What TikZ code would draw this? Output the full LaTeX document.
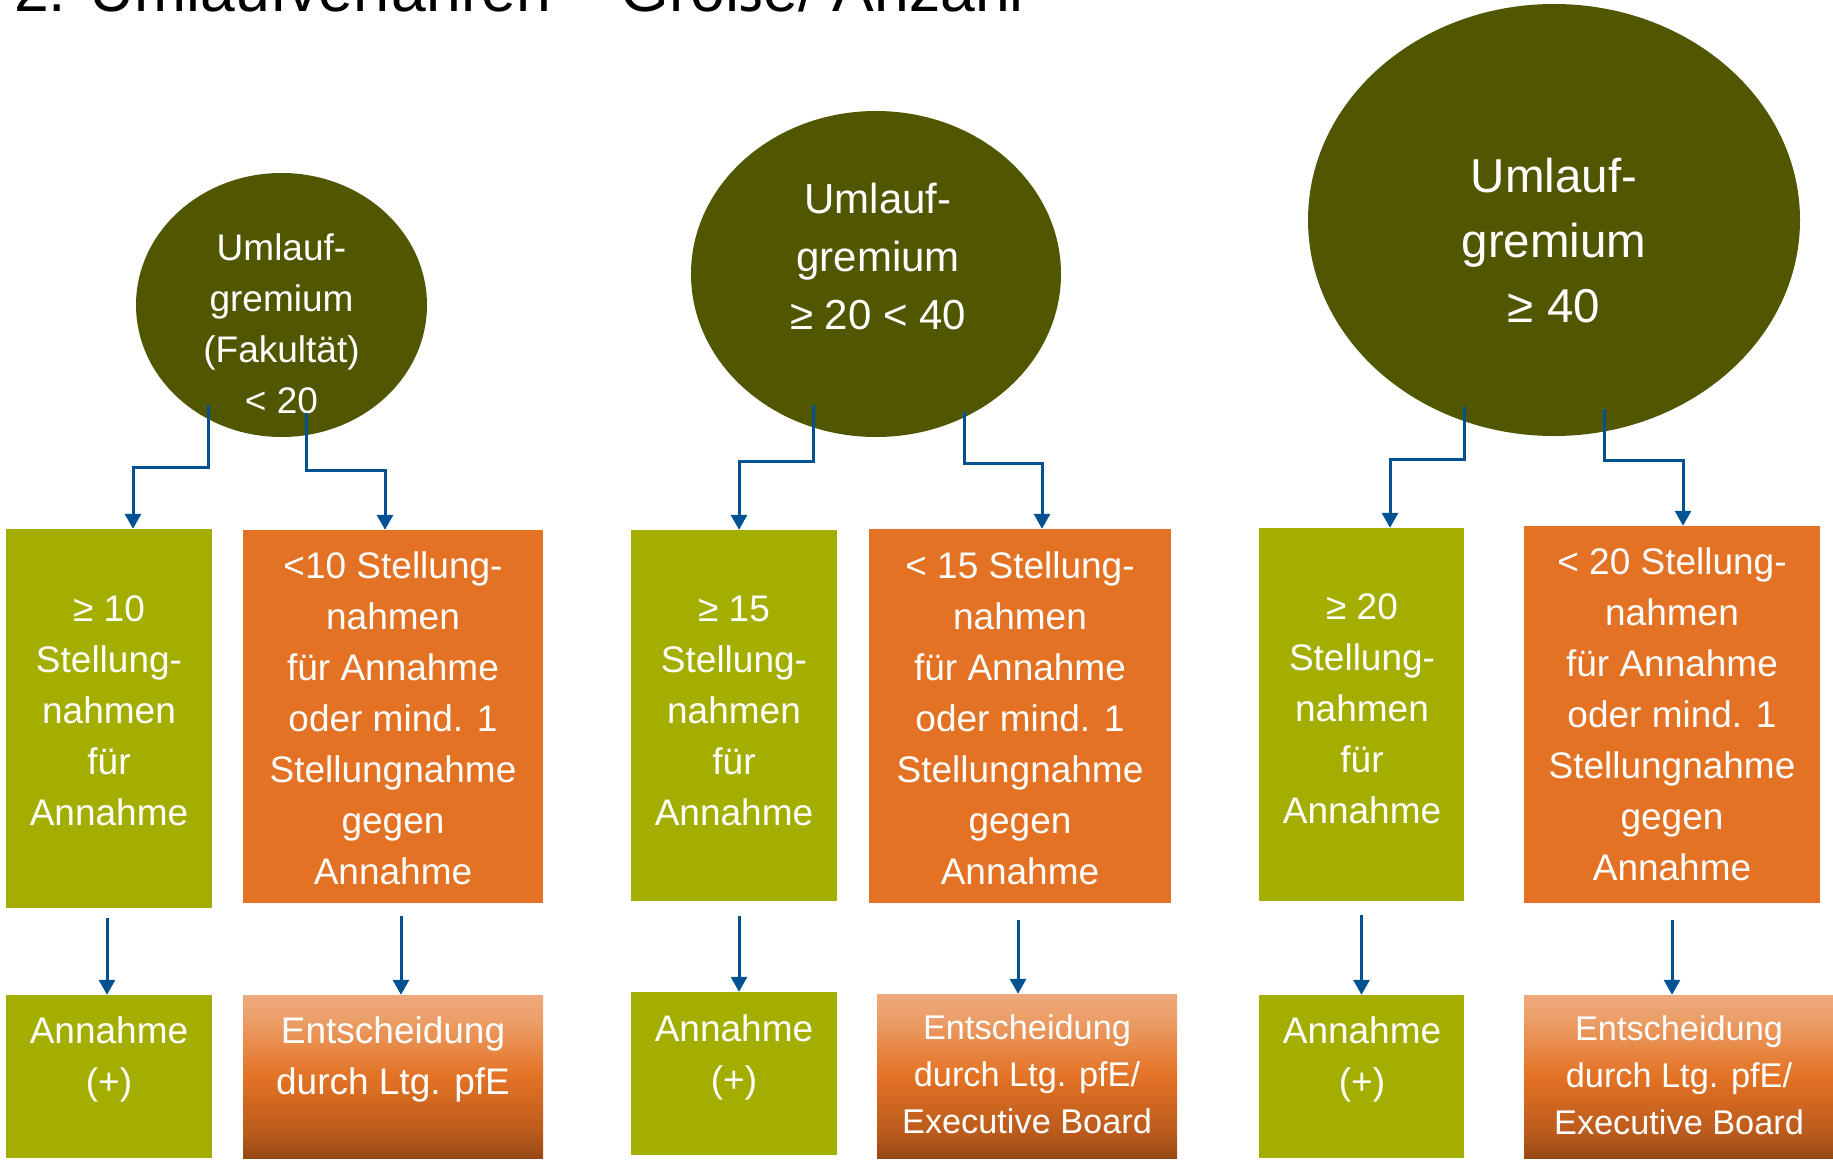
\documentclass[tikz,border=0pt]{standalone}
\usepackage{fontspec}
\setmainfont{Liberation Sans}
\usetikzlibrary{shapes.geometric,arrows.meta,calc}
\definecolor{olivedk}{RGB}{81,87,0}
\definecolor{grn}{RGB}{164,174,0}
\definecolor{org}{RGB}{227,114,36}
\definecolor{gtop}{RGB}{238,170,124}
\definecolor{gtopb}{RGB}{235,158,104}
\definecolor{gbotb}{RGB}{185,90,28}
\definecolor{gbot}{RGB}{150,72,20}
\definecolor{arrblue}{RGB}{0,82,147}
% path spans 25bp (bottom) .. 75bp (top) of the shading
\pgfdeclareverticalshading{orggrad}{100bp}{color(0bp)=(gbot); color(25bp)=(gbot); color(32.5bp)=(gbotb); color(50bp)=(org); color(67.5bp)=(gtopb); color(75bp)=(gtop); color(100bp)=(gtop)}
\tikzset{
  ell/.style={ellipse, fill=olivedk, inner sep=0pt, draw=none},
  gbox/.style={rectangle, fill=grn, inner sep=0pt},
  obox/.style={rectangle, fill=org, inner sep=0pt},
  gradbox/.style={rectangle, inner sep=0pt, shading=orggrad},
  txt/.style={text=white, align=center, inner sep=0pt, anchor=base},
  fA/.style={font=\fontsize{37pt}{51pt}\selectfont},
  fB/.style={font=\fontsize{42pt}{58pt}\selectfont},
  fC/.style={font=\fontsize{47.5pt}{65pt}\selectfont},
  fD/.style={font=\fontsize{34.3pt}{47pt}\selectfont},
  conn/.style={draw=arrblue, line width=3pt, -{Triangle[width=16pt,length=15pt]}},
}
\begin{document}
\begin{tikzpicture}[x=1pt,y=1pt]
\useasboundingbox (0,0) rectangle (1833,-1159);
\begin{scope}
\clip (0,0) rectangle (1833,-1159);
\node[anchor=base west, inner sep=0pt, font=\fontsize{62.5pt}{70pt}\selectfont] (title) at (14,-11) {2. Umlaufverfahren – Größe/ Anzahl};
\end{scope}

% ellipses
\node[ell, minimum width=291pt, minimum height=264pt] (e1) at (281.5,-305) {};
\node[ell, minimum width=370pt, minimum height=326pt] (e2) at (876,-274) {};
\node[ell, minimum width=492pt, minimum height=432pt] (e3) at (1554,-220) {};
% base anchor = baseline of last line
\node[txt, fA] (e1t) at (281.5,-413) {Umlauf-\\gremium\\(Fakultät)\\< 20};
\node[txt, fB] (e2t) at (878,-329) {Umlauf-\\gremium\\≥ 20 < 40};
\node[txt, fC] (e3t) at (1554,-322) {Umlauf-\\gremium\\≥ 40};

% first row boxes
\node[gbox, minimum width=206pt, minimum height=379pt] (a1) at (109,-718.5) {};
\node[obox, minimum width=300pt, minimum height=373pt] (b1) at (393,-716.5) {};
\node[gbox, minimum width=206pt, minimum height=371pt] (a2) at (734,-715.5) {};
\node[obox, minimum width=302pt, minimum height=374pt] (b2) at (1020,-716) {};
\node[gbox, minimum width=205pt, minimum height=373pt] (a3) at (1361.5,-714.5) {};
\node[obox, minimum width=296pt, minimum height=377pt] (b3) at (1672,-714.5) {};

\node[txt, fA] (a1t) at (109,-825) {≥ 10\\Stellung-\\nahmen\\für\\Annahme};
\node[txt, fA] (b1t) at (393,-884) {<10 Stellung-\\nahmen\\für Annahme\\oder mind. 1\\Stellungnahme\\gegen\\Annahme};
\node[txt, fA] (a2t) at (734,-825) {≥ 15\\Stellung-\\nahmen\\für\\Annahme};
\node[txt, fA] (b2t) at (1020,-884) {< 15 Stellung-\\nahmen\\für Annahme\\oder mind. 1\\Stellungnahme\\gegen\\Annahme};
\node[txt, fA] (a3t) at (1362,-823) {≥ 20\\Stellung-\\nahmen\\für\\Annahme};
\node[txt, fA] (b3t) at (1672,-880) {< 20 Stellung-\\nahmen\\für Annahme\\oder mind. 1\\Stellungnahme\\gegen\\Annahme};

% second row boxes
\node[gbox, minimum width=206pt, minimum height=163pt] (a1b) at (109,-1076.5) {};
\node[gradbox, minimum width=300pt, minimum height=163pt] (b1b) at (393,-1076.5) {};
\node[gbox, minimum width=206pt, minimum height=163pt] (a2b) at (734,-1073.5) {};
\node[gradbox, minimum width=300pt, minimum height=164pt] (b2b) at (1027,-1076) {};
\node[gbox, minimum width=205pt, minimum height=163pt] (a3b) at (1361.5,-1076.5) {};
\node[gradbox, minimum width=309pt, minimum height=163pt] (b3b) at (1678.5,-1076.5) {};

\node[txt, fA] (a1bt) at (109,-1094) {Annahme\\(+)};
\node[txt, fA] (b1bt) at (393,-1094) {Entscheidung\\durch Ltg. pfE};
\node[txt, fA] (a2bt) at (734,-1092) {Annahme\\(+)};
\node[txt, fD] (b2bt) at (1027,-1133) {Entscheidung\\durch Ltg. pfE/\\Executive Board};
\node[txt, fA] (a3bt) at (1362,-1094) {Annahme\\(+)};
\node[txt, fD] (b3bt) at (1679,-1134) {Entscheidung\\durch Ltg. pfE/\\Executive Board};

% connectors from ellipses
\draw[conn] ([xshift=-73.5pt,yshift=32pt]e1.south) -- ++(0,-62) -| ([xshift=24pt]a1.north);
\draw[conn] ([xshift=24.5pt,yshift=24pt]e1.south) -- ++(0,-57) -| ([xshift=-8pt]b1.north);
\draw[conn] ([xshift=-63pt,yshift=32pt]e2.south) -- ++(0,-56) -| ([xshift=5pt]a2.north);
\draw[conn] ([xshift=88pt,yshift=25pt]e2.south) -- ++(0,-51) -| ([xshift=22pt]b2.north);
\draw[conn] ([xshift=-90pt,yshift=29pt]e3.south) -- ++(0,-52) -| ([xshift=28.5pt]a3.north);
\draw[conn] ([xshift=50pt,yshift=27pt]e3.south) -- ++(0,-51) -| ([xshift=11pt]b3.north);

% connectors between rows
\draw[conn] ([xshift=-2pt,yshift=-10pt]a1.south) -- ([xshift=-2pt]a1b.north);
\draw[conn] ([xshift=8pt,yshift=-13pt]b1.south) -- ([xshift=8pt]b1b.north);
\draw[conn] ([xshift=5pt,yshift=-15pt]a2.south) -- ([xshift=5pt]a2b.north);
\draw[conn] ([xshift=-2pt,yshift=-17pt]b2.south) -- ([xshift=-9pt]b2b.north);
\draw[conn] ([yshift=-14pt]a3.south) -- (a3b.north);
\draw[conn] ([yshift=-17pt]b3.south) -- ([xshift=-6.5pt]b3b.north);
\end{tikzpicture}
\end{document}
